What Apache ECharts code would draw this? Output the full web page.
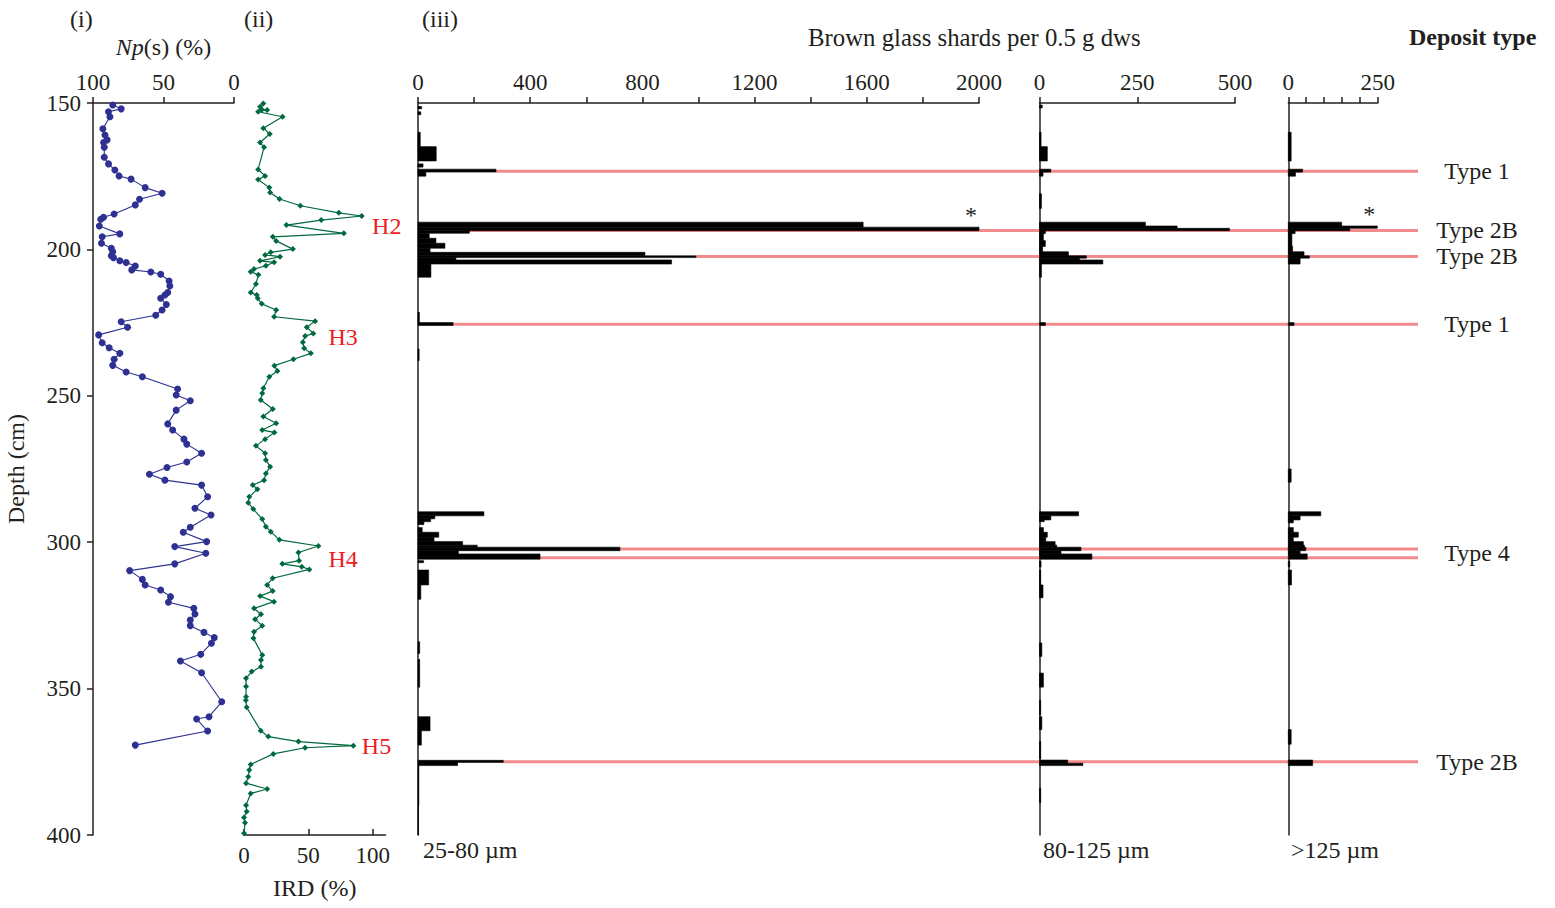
<!DOCTYPE html>
<html>
<head>
<meta charset="utf-8">
<script src="https://cdn.jsdelivr.net/npm/echarts@6/dist/echarts.min.js"></script>
<style>
  html, body { margin: 0; padding: 0; background: #fff; }
  #chart { width: 1555px; height: 908px; }
</style>
</head>
<body>
<div id="chart"></div>
<script>
/* ---------- data ---------- */
// (i) Np(s) %
const npDepth = [150.7, 152.0, 153.0, 154.7, 158.8, 160.9, 162.6, 163.5, 165.1, 168.5, 170.8, 172.9, 174.9, 176.0, 178.9,
    180.8, 182.9, 184.8, 187.9, 189.0, 189.7, 192.0, 194.7, 195.7, 197.9, 199.6, 200.8, 202.2, 202.8, 203.9, 204.5, 205.7,
    207.0, 207.7, 208.5, 210.8, 212.5, 214.7, 215.6, 216.7, 218.8, 220.7, 222.5, 224.7, 226.6, 229.2, 231.9, 233.6, 235.5,
    237.5, 239.6, 241.9, 243.5, 247.7, 249.7, 251.7, 254.9, 259.6, 261.7, 264.8, 266.5, 269.6, 272.6, 274.5, 276.8, 278.8,
    280.5, 284.5, 288.4, 290.7, 294.9, 296.6, 299.8, 301.5, 303.8, 307.4, 309.7, 312.7, 314.6, 316.3, 318.6, 320.5, 322.6,
    324.5, 326.6, 328.5, 330.8, 332.6, 334.5, 338.3, 340.6, 344.6, 354.5, 359.6, 360.4, 364.5, 369.3];
const npValue = [86, 80, 89, 88, 93, 91.5, 90, 92.5, 92, 92, 89, 84.5, 81.5, 73, 63,
    51, 67, 70, 85, 92.5, 94.5, 95.5, 81, 93.5, 94, 87, 86, 87, 85.5, 81, 76.5, 70,
    72.5, 59, 52, 46, 45.5, 47, 49, 52, 48, 51, 55.5, 80, 75.5, 96, 93.5, 88.5, 81,
    85, 86, 76.5, 65, 40, 41, 31, 41, 47, 43.5, 35.5, 33.5, 23, 33.5, 47.5, 60, 49,
    23, 18.7, 27.7, 16.3, 31, 36, 19.4, 42, 20, 42, 74, 65, 63, 52, 45, 46.5, 28.5,
    27.7, 31, 31, 21.3, 14, 16, 23.6, 38, 23, 8.7, 17.7, 26.5, 18.7, 70];

// (ii) IRD %
const irdDepth = [150.2, 151.3, 152.2, 152.4, 153.0, 154.7, 158.6, 160.6, 163.5, 165.1, 172.7, 174.9, 176.1, 178.9, 180.6,
    182.8, 185.1, 187.5, 188.6, 190.0, 191.7, 194.5, 195.7, 197.1, 199.9, 201.0, 201.9, 202.5, 203.9, 204.4, 205.6, 206.7,
    207.6, 208.7, 211.8, 214.7, 215.6, 216.7, 218.6, 220.7, 223.0, 224.5, 226.6, 228.7, 229.6, 231.7, 233.8, 235.5, 237.5,
    239.7, 241.5, 243.5, 247.4, 249.1, 251.4, 254.5, 257.1, 259.4, 261.7, 262.5, 264.8, 267.1, 269.6, 271.9, 274.2, 276.5,
    278.8, 280.5, 281.9, 284.5, 286.5, 288.7, 292.1, 294.7, 296.4, 299.2, 301.3, 303.5, 306.3, 307.4, 308.4, 309.3, 312.3,
    314.6, 316.7, 318.4, 320.3, 322.6, 324.6, 326.3, 328.5, 330.6, 332.8, 338.5, 340.2, 342.5, 344.2, 346.5, 349.3, 352.8,
    354.0, 356.4, 364.4, 366.4, 368.1, 369.5, 370.2, 372.3, 375.9, 377.8, 380.1, 382.3, 384.3, 385.8, 389.8, 392.0, 394.0,
    395.8, 399.4];
const irdValue = [15, 12.5, 13.8, 18, 11, 30, 15, 20, 12.5, 15.6, 11, 16.4, 11, 19.7, 20.3,
    27.6, 43.8, 73.7, 91.5, 60, 33, 77.6, 22.4, 25, 38, 20.8, 16.4, 28, 12.5, 23.4, 17, 7.8,
    5.2, 11.2, 9.3, 5.2, 9.9, 10.7, 13.8, 25, 23.4, 55.3, 48.8, 53.9, 47.5, 45.7, 46.8, 52, 38.4,
    23.6, 26, 19.7, 15, 14.2, 13, 22.4, 15, 25, 14.2, 23.6, 16.4, 9.3, 16.4, 17, 20.3, 17,
    15.6, 6.8, 10.4, 4.1, 3.3, 7.2, 14.2, 17, 20.8, 27.5, 57.8, 42.3, 42.8, 29.8, 44.9, 50.8, 22.3,
    18, 22.3, 12.5, 23.3, 7.8, 13.2, 8.6, 14.2, 7.8, 7.3, 14.2, 13.2, 13.2, 6, 1.6, 1.6, 1.6,
    1.4, 2.1, 13, 18.9, 42.3, 85, 47.5, 22.8, 5.2, 4.1, 3.3, 1.6, 18, 5.2, 1.6, 2.1, 0,
    0.8, 0];

const hName  = ["H2", "H3", "H4", "H5"];
const hDepth = [192.0, 229.9, 305.7, 369.6];
const hValue = [111, 77, 77, 103];

// (iii) brown glass shards: [top depth, bottom depth, shards], optional 4th = note
const bars2580 = [
    [151.2, 152.0, 13], [153.0, 154.0, 10], [160.0, 164.9, 8], [164.9, 169.8, 65], [170.8, 171.9, 18],
    [172.6, 173.6, 278], [173.6, 175.0, 28], [190.7, 192.4, 1587], [192.4, 193.6, 2000, "*"],
    [193.6, 194.5, 183], [194.5, 196.2, 40], [196.2, 197.9, 64], [197.9, 199.6, 96], [199.6, 201.0, 43],
    [201.0, 202.2, 809], [202.2, 202.8, 991], [202.8, 203.6, 135], [203.6, 205.0, 904], [205.0, 209.5, 46],
    [221.5, 225.0, 5], [225.0, 226.0, 125], [234.0, 238.0, 4],
    [289.6, 291.0, 235], [291.0, 292.0, 60], [292.0, 293.0, 45], [293.0, 294.0, 21], [295.0, 296.6, 15],
    [296.6, 298.3, 74], [298.3, 299.8, 57], [299.8, 301.0, 159], [301.0, 301.7, 211], [301.7, 302.9, 720],
    [302.9, 304.0, 144], [304.0, 305.8, 435], [306.3, 307.0, 20], [309.5, 314.6, 38], [314.6, 319.5, 10],
    [334.0, 338.0, 6], [340.0, 349.5, 6], [359.6, 364.4, 43], [364.4, 369.3, 12],
    [374.5, 375.2, 304], [375.0, 376.3, 141], [376.3, 390.0, 3], [390.0, 400.0, 2]
];
const bars80125 = [
    [150.7, 151.7, 7], [160.0, 164.9, 4], [164.9, 169.8, 20], [172.6, 173.6, 29], [173.6, 175.0, 9],
    [181.0, 186.0, 5], [190.7, 192.0, 271], [192.0, 192.8, 352], [192.8, 193.6, 486], [193.6, 194.6, 15],
    [194.6, 197.0, 10], [197.0, 199.0, 15], [199.0, 200.8, 8], [200.8, 202.2, 74], [202.2, 203.0, 120],
    [203.0, 203.6, 102], [203.6, 205.0, 162], [205.0, 209.5, 5], [225.0, 226.0, 15],
    [289.6, 291.0, 100], [291.0, 292.4, 29], [292.4, 293.0, 12], [295.0, 296.6, 10], [296.6, 298.3, 20],
    [298.3, 299.8, 16], [299.8, 301.0, 40], [301.0, 301.7, 44], [301.7, 302.9, 106], [302.9, 304.0, 55],
    [304.0, 305.8, 134], [306.5, 308.5, 4], [309.5, 314.6, 3], [314.6, 319.0, 9], [334.4, 339.0, 6],
    [344.7, 349.5, 10], [354.0, 359.0, 3], [359.6, 364.0, 6], [368.0, 374.0, 3],
    [374.4, 375.5, 72], [375.5, 376.3, 111], [384.0, 389.0, 3]
];
const bars125 = [
    [160.0, 169.8, 8], [172.6, 173.6, 40], [173.6, 175.0, 20], [190.7, 192.0, 149], [192.0, 192.8, 249, "*"],
    [192.8, 193.6, 172], [193.6, 194.6, 19], [194.6, 198.9, 10], [198.9, 200.8, 12], [200.8, 202.2, 44],
    [202.2, 203.0, 59], [203.0, 205.0, 33], [225.0, 226.0, 16], [275.0, 279.5, 8],
    [289.6, 291.0, 91], [291.0, 292.4, 33], [292.4, 293.4, 14], [295.0, 296.6, 14], [296.6, 298.3, 28],
    [298.3, 299.8, 14], [299.8, 301.0, 42], [301.0, 301.7, 45], [301.7, 302.9, 49], [302.9, 304.0, 33],
    [304.0, 305.8, 53], [306.5, 308.5, 4], [309.5, 314.6, 9], [364.0, 369.0, 8], [374.4, 376.3, 68]
];

// tephra horizons (pink lines) – start value on the 25-80 µm scale
const pinkDepth = [173.3, 193.55, 202.45, 225.55, 302.35, 305.3, 375.0];
const pinkStart = [278, 183, 991, 125, 720, 435, 304];

const typeName  = ["Type 1", "Type 2B", "Type 2B", "Type 1", "Type 4", "Type 2B"];
const typeDepth = [173.3, 193.5, 202.4, 225.4, 303.8, 375.1];

/* ---------- layout ---------- */
const FONT = "Liberation Serif";
const INK = "#231f20";
const PINK = "#f28b8c";
const TOP = 103, H = 732;
const W2580 = 561;                       // 0..2000
const OV_W = 1000;                       // pink lines run to x = 1418
const OV_MAX = 2000 * OV_W / W2580;

const axisBase = {
    axisLine: { onZero: false, lineStyle: { color: INK, width: 1.5 } },
    axisTick: { length: 6, lineStyle: { color: INK, width: 1.5 } },
    axisLabel: { color: INK, fontSize: 23, fontFamily: FONT, margin: 9 },
    splitLine: { show: false },
};
const depthAxis = (i, extra) => Object.assign({
    gridIndex: i, type: "value", inverse: true, min: 150, max: 400, interval: 50,
}, axisBase, extra);

/* ---------- renderers ---------- */
function barRenderer(src) {
    return (params, api) => {
        const p0 = api.coord([0, api.value(0)]);
        const p1 = api.coord([api.value(2), api.value(1)]);
        const kids = [{
            type: "rect",
            shape: { x: p0[0], y: p0[1], width: p1[0] - p0[0], height: Math.max(p1[1] - p0[1], 1) },
            style: { fill: "#000", stroke: "#000", lineWidth: 0.6 },
        }];
        const note = src[params.dataIndex][3];
        if (note) {
            kids.push({
                type: "text", x: p1[0] - 8, y: p0[1] - 12,
                style: { text: note, fill: INK, fontSize: 24, fontFamily: FONT, align: "center", verticalAlign: "middle" },
            });
        }
        return { type: "group", children: kids };
    };
}

const barSeries = (idx, src) => ({
    type: "custom", xAxisIndex: idx, yAxisIndex: idx, z: 3, clip: false, silent: true,
    data: src.map((r) => [r[0], r[1], r[2]]),
    renderItem: barRenderer(src),
});

const option = {
    animation: false,
    backgroundColor: "#fff",
    textStyle: { fontFamily: FONT },
    grid: [
        { left: 93,     top: TOP, width: 141,   height: H, outerBoundsMode: "none" },
        { left: 244,    top: TOP, width: 141.5, height: H, outerBoundsMode: "none" },
        { left: 418,    top: TOP, width: W2580, height: H, outerBoundsMode: "none" },
        { left: 1039.5, top: TOP, width: 195.5, height: H, outerBoundsMode: "none" },
        { left: 1288.3, top: TOP, width: 89.4,  height: H, outerBoundsMode: "none" },
        { left: 418,    top: TOP, width: OV_W,  height: H, outerBoundsMode: "none" },
    ],
    xAxis: [
        Object.assign({}, axisBase, {
            gridIndex: 0, type: "value", position: "top", inverse: true, min: 0, max: 100, interval: 50,
            name: "{i|Np}(s) (%)", nameLocation: "middle", nameGap: 44,
            nameTextStyle: { color: INK, fontSize: 24, fontFamily: FONT, rich: { i: { fontStyle: "italic", fontSize: 24, fontFamily: FONT, color: INK } } },
        }),
        Object.assign({}, axisBase, {
            gridIndex: 1, type: "value", position: "bottom", min: 0, max: 110, interval: 50,
            axisTick: { inside: true, length: 6, lineStyle: { color: INK, width: 1.5 } },
            axisLabel: Object.assign({}, axisBase.axisLabel, { showMaxLabel: false }),
            name: "IRD (%)", nameLocation: "middle", nameGap: 41,
            nameTextStyle: { color: INK, fontSize: 24, fontFamily: FONT },
        }),
        Object.assign({}, axisBase, {
            gridIndex: 2, type: "value", position: "top", min: 0, max: 2000, interval: 200,
            axisLabel: Object.assign({}, axisBase.axisLabel, { formatter: (v) => (v % 400 === 0 ? v : "") }),
        }),
        Object.assign({}, axisBase, {
            gridIndex: 3, type: "value", position: "top", min: 0, max: 500, interval: 250,
        }),
        Object.assign({}, axisBase, {
            gridIndex: 4, type: "value", position: "top", min: 0, max: 250, interval: 50,
            axisLabel: Object.assign({}, axisBase.axisLabel, { formatter: (v) => (v === 0 || v === 250 ? v : "") }),
        }),
        { gridIndex: 5, type: "value", min: 0, max: OV_MAX, show: false },
    ],
    yAxis: [
        depthAxis(0, {
            axisLabel: Object.assign({}, axisBase.axisLabel, { margin: 12 }),
            name: "Depth (cm)", nameLocation: "middle", nameGap: 65, nameRotate: 90,
            nameTextStyle: { color: INK, fontSize: 24, fontFamily: FONT },
        }),
        depthAxis(1, { show: false }),
        depthAxis(2, { axisTick: { show: false }, axisLabel: { show: false } }),
        depthAxis(3, { axisTick: { show: false }, axisLabel: { show: false } }),
        depthAxis(4, { axisTick: { show: false }, axisLabel: { show: false } }),
        depthAxis(5, { show: false }),
    ],
    series: [
        {
            name: "Np(s)", type: "line", xAxisIndex: 0, yAxisIndex: 0,
            data: npDepth.map((d, i) => [npValue[i], d]),
            symbol: "circle", symbolSize: 7, showAllSymbol: true,
            itemStyle: { color: "#2e3192" }, lineStyle: { color: "#2e3192", width: 1.1 },
        },
        {
            name: "IRD", type: "line", xAxisIndex: 1, yAxisIndex: 1,
            data: irdDepth.map((d, i) => [irdValue[i], d]),
            symbol: "diamond", symbolSize: 6, showAllSymbol: true,
            itemStyle: { color: "#00693e" }, lineStyle: { color: "#00693e", width: 1.2 },
        },
        {
            type: "custom", xAxisIndex: 1, yAxisIndex: 1, clip: false, silent: true,
            data: hDepth.map((d, i) => [hValue[i], d]),
            renderItem: (params, api) => {
                const p = api.coord([api.value(0), api.value(1)]);
                return {
                    type: "text", x: p[0], y: p[1],
                    style: { text: hName[params.dataIndex], fill: "#ed1c24", fontSize: 24, fontFamily: FONT, align: "center", verticalAlign: "middle" },
                };
            },
        },
        {
            type: "custom", xAxisIndex: 5, yAxisIndex: 5, z: 1, clip: false, silent: true,
            data: pinkDepth.map((d, i) => [pinkStart[i], d]),
            renderItem: (params, api) => {
                const a = api.coord([api.value(0), api.value(1)]);
                const b = api.coord([OV_MAX, api.value(1)]);
                return { type: "line", shape: { x1: a[0], y1: a[1], x2: b[0], y2: b[1] }, style: { stroke: PINK, lineWidth: 3 } };
            },
        },
        {
            type: "custom", xAxisIndex: 5, yAxisIndex: 5, clip: false, silent: true,
            data: typeDepth.map((d) => [OV_MAX, d]),
            renderItem: (params, api) => {
                const p = api.coord([api.value(0), api.value(1)]);
                return {
                    type: "text", x: p[0] + 59, y: p[1],
                    style: { text: typeName[params.dataIndex], fill: INK, fontSize: 24, fontFamily: FONT, align: "center", verticalAlign: "middle" },
                };
            },
        },
        barSeries(2, bars2580),
        barSeries(3, bars80125),
        barSeries(4, bars125),
    ],
    graphic: [
        { type: "text", left: 70, top: 7, style: { text: "(i)", fill: INK, fontSize: 24, fontFamily: FONT } },
        { type: "text", left: 244, top: 7, style: { text: "(ii)", fill: INK, fontSize: 24, fontFamily: FONT } },
        { type: "text", left: 422, top: 7, style: { text: "(iii)", fill: INK, fontSize: 24, fontFamily: FONT } },
        { type: "text", left: 808, top: 25, style: { text: "Brown glass shards per 0.5 g dws", fill: INK, fontSize: 24.8, fontFamily: FONT } },
        { type: "text", left: 1409, top: 25, style: { text: "Deposit type", fill: INK, fontSize: 24, fontWeight: "bold", fontFamily: FONT } },
        { type: "text", left: 423, top: 838, style: { text: "25-80 µm", fill: INK, fontSize: 24, fontFamily: FONT } },
        { type: "text", left: 1043, top: 838, style: { text: "80-125 µm", fill: INK, fontSize: 24, fontFamily: FONT } },
        { type: "text", left: 1291, top: 838, style: { text: ">125 µm", fill: INK, fontSize: 24, fontFamily: FONT } },
    ],
};

const chart = echarts.init(document.getElementById("chart"), null, { renderer: "svg" });
chart.setOption(option);
</script>
</body>
</html>
